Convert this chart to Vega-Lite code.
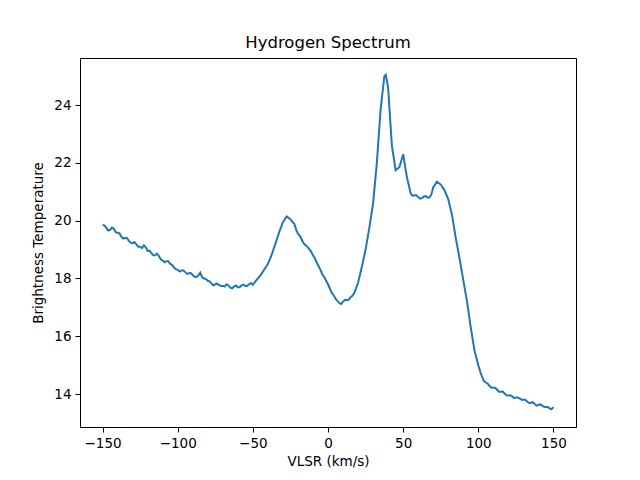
{
  "$schema": "https://vega.github.io/schema/vega-lite/v6.json",
  "width": 496,
  "height": 369,
  "autosize": "none",
  "padding": {"left": 80, "top": 58, "right": 64, "bottom": 53},
  "background": "white",
  "title": {"text": "Hydrogen Spectrum", "font": "DejaVu Sans", "fontSize": 16.5, "fontWeight": "normal", "color": "black", "offset": 7},
  "config": {
    "view": {"stroke": "black", "strokeWidth": 1},
    "axis": {"grid": false, "domain": false, "tickColor": "black", "tickSize": 5, "tickWidth": 1, "labelPadding": 4, "labelFont": "DejaVu Sans", "labelFontSize": 13.5, "labelColor": "black", "titleFont": "DejaVu Sans", "titleFontSize": 13.5, "titleFontWeight": "normal", "titleColor": "black"}
  },
  "data": {"values": [
    {"v": -150, "t": 19.85}, {"v": -148.75, "t": 19.84}, {"v": -147.5, "t": 19.75}, {"v": -146.25, "t": 19.66},
    {"v": -145, "t": 19.68}, {"v": -143.75, "t": 19.76}, {"v": -142.5, "t": 19.72}, {"v": -141.25, "t": 19.60},
    {"v": -140, "t": 19.58}, {"v": -138.75, "t": 19.56}, {"v": -137.5, "t": 19.45}, {"v": -136.25, "t": 19.38},
    {"v": -135, "t": 19.40}, {"v": -133.75, "t": 19.40}, {"v": -132.5, "t": 19.30}, {"v": -131.25, "t": 19.24},
    {"v": -130, "t": 19.22}, {"v": -128.75, "t": 19.26}, {"v": -127.5, "t": 19.18}, {"v": -126.25, "t": 19.10},
    {"v": -125, "t": 19.10}, {"v": -123.75, "t": 19.05}, {"v": -122.5, "t": 19.15}, {"v": -121.25, "t": 19.08},
    {"v": -120, "t": 18.95}, {"v": -118.75, "t": 18.96}, {"v": -117.5, "t": 18.88}, {"v": -116.25, "t": 18.80},
    {"v": -115, "t": 18.80}, {"v": -113.75, "t": 18.86}, {"v": -112.5, "t": 18.78}, {"v": -111.25, "t": 18.66},
    {"v": -110, "t": 18.62}, {"v": -108.75, "t": 18.56}, {"v": -107.5, "t": 18.60}, {"v": -106.25, "t": 18.60},
    {"v": -105, "t": 18.50}, {"v": -103.75, "t": 18.47}, {"v": -102.5, "t": 18.38}, {"v": -101.25, "t": 18.32},
    {"v": -100, "t": 18.30}, {"v": -98.75, "t": 18.24}, {"v": -97.5, "t": 18.28}, {"v": -96.25, "t": 18.28},
    {"v": -95, "t": 18.22}, {"v": -93.75, "t": 18.16}, {"v": -92.5, "t": 18.18}, {"v": -91.25, "t": 18.19},
    {"v": -90, "t": 18.12}, {"v": -88.75, "t": 18.06}, {"v": -87.5, "t": 18.05}, {"v": -86.25, "t": 18.10},
    {"v": -85, "t": 18.20}, {"v": -83.75, "t": 18.05}, {"v": -82.5, "t": 18.00}, {"v": -81.25, "t": 17.98},
    {"v": -80, "t": 17.92}, {"v": -78.75, "t": 17.90}, {"v": -77.5, "t": 17.82}, {"v": -76.25, "t": 17.76},
    {"v": -75, "t": 17.80}, {"v": -73.75, "t": 17.82}, {"v": -72.5, "t": 17.78}, {"v": -71.25, "t": 17.74},
    {"v": -70, "t": 17.75}, {"v": -68.75, "t": 17.72}, {"v": -67.5, "t": 17.80}, {"v": -66.25, "t": 17.76},
    {"v": -65, "t": 17.68}, {"v": -63.75, "t": 17.66}, {"v": -62.5, "t": 17.72}, {"v": -61.25, "t": 17.76},
    {"v": -60, "t": 17.70}, {"v": -58.75, "t": 17.70}, {"v": -57.5, "t": 17.76}, {"v": -56.25, "t": 17.79},
    {"v": -55, "t": 17.74}, {"v": -53.75, "t": 17.74}, {"v": -52.5, "t": 17.80}, {"v": -51.25, "t": 17.84},
    {"v": -50, "t": 17.78}, {"v": -47.5, "t": 17.95}, {"v": -45, "t": 18.10}, {"v": -42.5, "t": 18.30},
    {"v": -40, "t": 18.50}, {"v": -37.5, "t": 18.82}, {"v": -35, "t": 19.20}, {"v": -32.5, "t": 19.60},
    {"v": -30, "t": 19.95}, {"v": -27.5, "t": 20.15}, {"v": -25, "t": 20.05}, {"v": -23.75, "t": 19.96},
    {"v": -22.5, "t": 19.90}, {"v": -21.25, "t": 19.70}, {"v": -20, "t": 19.55}, {"v": -18.75, "t": 19.48},
    {"v": -17.5, "t": 19.35}, {"v": -16.25, "t": 19.22}, {"v": -15, "t": 19.15}, {"v": -13.75, "t": 19.10},
    {"v": -12.5, "t": 19.02}, {"v": -11.25, "t": 18.93}, {"v": -10, "t": 18.80}, {"v": -8.75, "t": 18.70},
    {"v": -7.5, "t": 18.55}, {"v": -5, "t": 18.30}, {"v": -3.75, "t": 18.14}, {"v": -2.5, "t": 18.05},
    {"v": 0, "t": 17.80}, {"v": 2.5, "t": 17.50}, {"v": 3.75, "t": 17.42}, {"v": 5, "t": 17.30},
    {"v": 7.5, "t": 17.15}, {"v": 8.75, "t": 17.12}, {"v": 10, "t": 17.20}, {"v": 11.25, "t": 17.26},
    {"v": 12.5, "t": 17.25}, {"v": 13.75, "t": 17.27}, {"v": 15, "t": 17.35}, {"v": 16.25, "t": 17.40},
    {"v": 17.5, "t": 17.50}, {"v": 20, "t": 17.85}, {"v": 22.5, "t": 18.40}, {"v": 25, "t": 19.00},
    {"v": 27.5, "t": 19.75}, {"v": 30, "t": 20.60}, {"v": 32.5, "t": 22.00}, {"v": 35, "t": 23.85},
    {"v": 37.5, "t": 25.00}, {"v": 38.5, "t": 25.05}, {"v": 40, "t": 24.60}, {"v": 42.5, "t": 22.60},
    {"v": 45, "t": 21.75}, {"v": 47.5, "t": 21.85}, {"v": 50, "t": 22.30}, {"v": 52.5, "t": 21.50},
    {"v": 55, "t": 20.95}, {"v": 56.25, "t": 20.86}, {"v": 57.5, "t": 20.88}, {"v": 58.75, "t": 20.88},
    {"v": 60, "t": 20.82}, {"v": 61.25, "t": 20.76}, {"v": 62.5, "t": 20.78}, {"v": 63.75, "t": 20.84},
    {"v": 65, "t": 20.85}, {"v": 66.25, "t": 20.80}, {"v": 67.5, "t": 20.80}, {"v": 68.75, "t": 20.90},
    {"v": 70, "t": 21.15}, {"v": 72.5, "t": 21.35}, {"v": 75, "t": 21.25}, {"v": 77.5, "t": 21.05},
    {"v": 80, "t": 20.75}, {"v": 82.5, "t": 20.20}, {"v": 85, "t": 19.40}, {"v": 87.5, "t": 18.70},
    {"v": 90, "t": 17.95}, {"v": 92.5, "t": 17.20}, {"v": 95, "t": 16.30}, {"v": 97.5, "t": 15.50},
    {"v": 100, "t": 15.00}, {"v": 101.25, "t": 14.78}, {"v": 102.5, "t": 14.60}, {"v": 103.75, "t": 14.45},
    {"v": 105, "t": 14.40}, {"v": 106.25, "t": 14.36}, {"v": 107.5, "t": 14.28}, {"v": 108.75, "t": 14.22},
    {"v": 110, "t": 14.22}, {"v": 111.25, "t": 14.22}, {"v": 112.5, "t": 14.15}, {"v": 113.75, "t": 14.08},
    {"v": 115, "t": 14.08}, {"v": 116.25, "t": 14.09}, {"v": 117.5, "t": 14.02}, {"v": 118.75, "t": 13.96},
    {"v": 120, "t": 13.95}, {"v": 121.25, "t": 13.96}, {"v": 122.5, "t": 13.92}, {"v": 123.75, "t": 13.86},
    {"v": 125, "t": 13.88}, {"v": 126.25, "t": 13.88}, {"v": 127.5, "t": 13.85}, {"v": 128.75, "t": 13.80},
    {"v": 130, "t": 13.80}, {"v": 131.25, "t": 13.80}, {"v": 132.5, "t": 13.74}, {"v": 133.75, "t": 13.69},
    {"v": 135, "t": 13.70}, {"v": 136.25, "t": 13.72}, {"v": 137.5, "t": 13.66}, {"v": 138.75, "t": 13.60},
    {"v": 140, "t": 13.62}, {"v": 141.25, "t": 13.64}, {"v": 142.5, "t": 13.60}, {"v": 143.75, "t": 13.56},
    {"v": 145, "t": 13.55}, {"v": 146.25, "t": 13.55}, {"v": 147.5, "t": 13.50}, {"v": 148.75, "t": 13.48},
    {"v": 150, "t": 13.55}
  ]},
  "mark": {"type": "line", "color": "#1f77b4", "strokeWidth": 2},
  "encoding": {
    "x": {"field": "v", "type": "quantitative", "title": "VLSR (km/s)",
      "scale": {"domain": [-165, 165], "nice": false, "zero": false},
      "axis": {"values": [-150, -100, -50, 0, 50, 100, 150], "titlePadding": 5}},
    "y": {"field": "t", "type": "quantitative", "title": "Brightness Temperature",
      "scale": {"domain": [12.86, 25.63], "nice": false, "zero": false},
      "axis": {"values": [14, 16, 18, 20, 22, 24], "titlePadding": 8}}
  }
}
